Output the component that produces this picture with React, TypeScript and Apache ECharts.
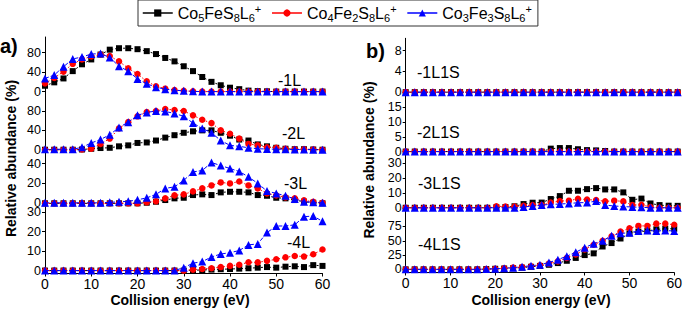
import React, { useEffect, useRef } from "react";
import * as echarts from "echarts";

// Collision energy (eV)
const energy = [0, 2, 4, 6, 8, 10, 12, 14, 16, 18, 20, 22, 24, 26, 28, 30, 32, 34, 36, 38, 40, 42, 44, 46, 48, 50, 52, 54, 56, 58, 60];

const seriesNames = ["Co5FeS8L6+", "Co4Fe2S8L6+", "Co3Fe3S8L6+"];
const legendRich: Record<string, string> = {
  "Co5FeS8L6+": "Co{s|5}FeS{s|8}L{s|6}{p|+}",
  "Co4Fe2S8L6+": "Co{s|4}Fe{s|2}S{s|8}L{s|6}{p|+}",
  "Co3Fe3S8L6+": "Co{s|3}Fe{s|3}S{s|8}L{s|6}{p|+}",
};

// a) -1L
const l1Co5 = [12, 19, 27, 42, 56, 66, 76, 86, 89, 89, 87, 83, 77, 69, 62, 52, 42, 30, 20, 13, 8, 5, 2, 1, 0.5, 0, 0, 0, 0, 0, 0];
const l1Co4 = [17, 28, 41, 57, 66, 72, 76, 73, 62, 48, 36, 21, 11, 6, 3, 1.5, 0.5, 0, 0, 0, 0, 0, 0, 0, 0, 0, 0, 0, 0, 0, 0];
const l1Co3 = [27, 34, 51, 67, 71, 77, 78, 70, 52, 42, 26, 16, 9, 5, 3, 1.5, 0.5, 0, 0, 0, 0, 0, 0, 0, 0, 0, 0, 0, 0, 0, 0];
// a) -2L
const l2Co5 = [0, 0, 0, 0, 0.5, 2, 3.5, 4, 7, 9, 14, 15, 19, 25, 30, 35, 38, 40, 40, 35, 29, 21, 19, 11, 7, 4, 2, 1, 1, 0.5, 0];
const l2Co4 = [0, 0, 0, 0, 0.5, 2, 12, 23, 44, 57, 69, 78, 80, 84, 82, 80, 71, 62, 55, 40, 33, 23, 12, 9, 5, 4, 2, 1, 1, 0.5, 0];
const l2Co3 = [1, 1, 1, 1, 5, 14, 21, 31, 46, 57, 71, 77, 80, 79, 75, 69, 55, 44, 35, 19, 9, 7, 4, 2, 1.5, 1, 1, 0.5, 0.5, 0, 0];
// a) -3L
const l3Co5 = [0, 0, 0, 0, 0, 0, 0, 0, 0, 0, 0, 0.6, 1.6, 3.3, 5, 5.6, 8.3, 9, 8.3, 11, 11.6, 11.6, 11, 8.3, 7.6, 5.6, 5, 3.3, 1.6, 0.6, 0];
const l3Co4 = [0, 0, 0, 0, 0, 0, 0, 0, 0, 0, 0, 1, 2, 5, 8, 9, 12, 15, 18, 21, 20, 22, 18, 15, 10, 8, 6, 5, 3, 1.5, 0.5];
const l3Co3 = [0.5, 0.5, 0.5, 0.5, 0.5, 0.5, 0.5, 1, 1.5, 2, 3.5, 5.5, 9, 15, 16.6, 23, 31.6, 33, 41, 38, 35, 32, 26.6, 20, 12.3, 10, 7.6, 4.3, 1.6, 1, 0.6];
// a) -4L
const l4Co5 = [0, 0, 0, 0, 0, 0, 0, 0, 0, 0, 0, 0, 0, 0, 0, 0, 0.2, 0.3, 0.5, 0.7, 0.8, 1, 1.2, 1.5, 1.8, 1.5, 2, 2.2, 1.8, 2.8, 2.4];
const l4Co4 = [0, 0, 0, 0, 0, 0, 0, 0, 0, 0, 0, 0, 0, 0, 0, 0, 0.5, 0.8, 1.2, 1.8, 2.4, 3, 4.3, 4.2, 5, 5.8, 6.8, 7.5, 7.2, 8.4, 10.8];
const l4Co3 = [0, 0, 0, 0, 0, 0, 0, 0, 0, 0, 0, 0, 0, 0, 0, 1.5, 3.8, 4.6, 7, 8.5, 9.2, 10.3, 13.2, 13.7, 19.5, 22.9, 22.9, 23.5, 27.7, 28, 25.3];
// b) -1L1S
const s1Co5 = [0, 0, 0, 0, 0, 0, 0, 0, 0, 0, 0, 0, 0, 0, 0, 0, 0, 0, 0, 0, 0, 0, 0, 0, 0, 0, 0, 0, 0, 0, 0];
const s1Co4 = [0, 0, 0, 0, 0, 0, 0, 0, 0, 0, 0, 0, 0, 0, 0, 0, 0, 0, 0, 0, 0, 0, 0, 0, 0, 0, 0, 0, 0, 0, 0];
const s1Co3 = [0, 0, 0, 0, 0, 0, 0, 0, 0, 0, 0, 0, 0, 0, 0, 0, 0, 0, 0, 0, 0, 0, 0, 0, 0, 0, 0, 0, 0, 0, 0];
// b) -2L1S
const s2Co5 = [0, 0, 0, 0, 0, 0, 0, 0, 0, 0, 0, 0, 0, 0, 0, 0, 1, 1.2, 1.2, 0.8, 0.5, 0.4, 0.2, 0, 0, 0, 0, 0, 0, 0, 0];
const s2Co4 = [0, 0, 0, 0, 0, 0, 0, 0, 0, 0, 0, 0, 0, 0, 0, 0, 0, 0, 0, 0, 0, 0, 0, 0, 0, 0, 0, 0, 0, 0, 0];
const s2Co3 = [0, 0, 0, 0, 0, 0, 0, 0, 0, 0, 0, 0, 0, 0, 0, 0, 0, 0, 0, 0, 0, 0, 0, 0, 0, 0, 0, 0, 0, 0, 0];
// b) -3L1S
const s3Co5 = [0, 0, 0, 0, 0, 0, 0, 0, 0, 0, 0.3, 0.5, 1, 2.5, 3.4, 3.5, 5.9, 7.9, 11.5, 11.5, 12.6, 13.3, 12.4, 12.4, 10.4, 5.4, 6.2, 2.9, 1.8, 1.4, 1.3];
const s3Co4 = [0, 0, 0, 0, 0, 0, 0, 0, 0, 0, 1, 0.8, 0.8, 1.4, 1.8, 1.8, 3.5, 4.5, 4.8, 6, 5.5, 5.2, 4.3, 4.8, 4.3, 1.8, 2, 0.5, 0, 0, 0];
const s3Co3 = [0, 0, 0, 0, 0, 0, 0, 0, 0, 0, 0, 0, 0, 0.5, 1.2, 1.8, 2.3, 2.5, 2.9, 3.4, 3.5, 4.5, 1.8, 1.2, 0.8, 0.5, 0.3, 0, 0, 0, 0];
// b) -4L1S
const s4Co5 = [0, 0, 0, 0, 0, 0, 0, 0, 0, 0.5, 1, 1.5, 2, 3, 4.5, 6, 8, 11, 15, 20, 25, 28, 40, 46, 54, 63, 66, 67, 70, 71, 71];
const s4Co4 = [0, 0, 0, 0, 0, 0, 0, 0, 0, 0.5, 1, 2, 3, 4, 5.5, 7, 10, 14, 20, 26, 35, 43, 50, 58, 66, 72, 76, 76, 80, 80, 78];
const s4Co3 = [0, 0, 0, 0, 0, 0, 0, 0, 0, 0.5, 1, 2, 3, 4.5, 6.5, 8, 12, 17, 23, 30, 38, 45, 50, 59, 63, 64, 67, 68, 67, 68, 67];

// tick labels
const ticksL1 = [0, 40, 80];
const ticksL2 = [0, 40, 80];
const ticksL3 = [0, 20, 40];
const ticksL4 = [0, 10, 20, 30];
const ticksS1 = [0, 4, 8];
const ticksS2 = [0, 5, 10, 15];
const ticksS3 = [0, 10, 20, 30];
const ticksS4 = [0, 25, 50, 75];

const panelLabels = ["-1L", "-2L", "-3L", "-4L", "-1L1S", "-2L1S", "-3L1S", "-4L1S"];

const FONT = "'Liberation Sans', Arial, sans-serif";

// layout (not data)
const panels = [
  { left: 45, width: 277.5, top: 37, height: 58.5, min: -8, max: 112, ticks: ticksL1, data: [l1Co5, l1Co4, l1Co3], bottom: false, lx: 278, ly: 80 },
  { left: 45, width: 277.5, top: 95.5, height: 58.1, min: -8, max: 112, ticks: ticksL2, data: [l2Co5, l2Co4, l2Co3], bottom: false, lx: 282, ly: 133 },
  { left: 45, width: 277.5, top: 153.6, height: 53.7, min: -4, max: 50, ticks: ticksL3, data: [l3Co5, l3Co4, l3Co3], bottom: false, lx: 284, ly: 183 },
  { left: 45, width: 277.5, top: 207.3, height: 66.2, min: -1.5, max: 32.5, ticks: ticksL4, data: [l4Co5, l4Co4, l4Co3], bottom: true, lx: 287, ly: 242 },
  { left: 405.7, width: 272, top: 38.3, height: 58, min: -0.8, max: 10.4, ticks: ticksS1, data: [s1Co5, s1Co4, s1Co3], bottom: false, lx: 417, ly: 72 },
  { left: 405.7, width: 272, top: 96.3, height: 59.7, min: -1.5, max: 18.8, ticks: ticksS2, data: [s2Co5, s2Co4, s2Co3], bottom: false, lx: 417, ly: 132 },
  { left: 405.7, width: 272, top: 156, height: 56.2, min: -3, max: 35, ticks: ticksS3, data: [s3Co5, s3Co4, s3Co3], bottom: false, lx: 418, ly: 183 },
  { left: 405.7, width: 272, top: 212.2, height: 60.3, min: -5.5, max: 100, ticks: ticksS4, data: [s4Co5, s4Co4, s4Co3], bottom: true, lx: 418, ly: 244 },
];

const styles = [
  { symbol: "rect", size: 6, color: "#000000", line: [2, 2] as any },
  { symbol: "circle", size: 6.5, color: "#ff0000", line: [1.5, 2] as any },
  { symbol: "triangle", size: 8, color: "#0000ff", line: [4, 2] as any },
];

export default function App() {
  const ref = useRef<HTMLDivElement>(null);
  useEffect(() => {
    if (!ref.current) return;
    const chart = echarts.init(ref.current, undefined, { renderer: "svg" });
    const grid = panels.map((p) => ({ left: p.left, top: p.top, width: p.width, height: p.height, containLabel: false }));
    const xAxis = panels.map((p, k) =>
      p.bottom
        ? {
            gridIndex: k,
            type: "value",
            min: 0,
            max: 60,
            interval: 10,
            axisLine: { show: true, onZero: false, lineStyle: { color: "#000", width: 1 } },
            axisTick: { show: true, length: 3, lineStyle: { color: "#000" } },
            axisLabel: { color: "#000", fontSize: 14, margin: 3, fontFamily: FONT },
            splitLine: { show: false },
          }
        : { gridIndex: k, type: "value", min: 0, max: 60, show: false }
    );
    const yAxis = panels.map((p, k) => ({
      gridIndex: k,
      type: "value",
      min: p.min,
      max: p.max,
      axisLine: { show: true, onZero: false, lineStyle: { color: "#000", width: 1 } },
      axisTick: { show: true, length: 3, customValues: p.ticks, lineStyle: { color: "#000" } },
      axisLabel: { customValues: p.ticks, color: "#000", fontSize: 12.5, lineHeight: 10, margin: 4, fontFamily: FONT },
      splitLine: { show: false },
    }));
    const series: any[] = [];
    panels.forEach((p, k) => {
      p.data.forEach((arr, j) => {
        const st = styles[j];
        series.push({
          name: seriesNames[j],
          type: "line",
          xAxisIndex: k,
          yAxisIndex: k,
          data: energy.map((e, i) => [e, arr[i]]),
          symbol: st.symbol,
          symbolSize: st.size,
          showAllSymbol: true,
          clip: false,
          itemStyle: { color: st.color },
          lineStyle: { color: st.color, width: 1, type: st.line },
          z: 2 + j,
        });
      });
    });
    const graphic: any[] = [
      { type: "text", left: 0, top: 36, style: { text: "a)", font: `bold 20px ${FONT}`, fill: "#000" } },
      { type: "text", left: 366, top: 41, style: { text: "b)", font: `bold 20px ${FONT}`, fill: "#000" } },
      {
        type: "text",
        x: 11,
        y: 158.5,
        rotation: Math.PI / 2,
        style: { text: "Relative abundance (%)", font: `bold 14px ${FONT}`, fill: "#000", align: "center", verticalAlign: "middle" },
      },
      {
        type: "text",
        x: 369,
        y: 160,
        rotation: Math.PI / 2,
        style: { text: "Relative abundance (%)", font: `bold 14px ${FONT}`, fill: "#000", align: "center", verticalAlign: "middle" },
      },
      { type: "text", x: 180, y: 300, style: { text: "Collision energy (eV)", font: `bold 14px ${FONT}`, fill: "#000", align: "center", verticalAlign: "middle" } },
      { type: "text", x: 541, y: 300, style: { text: "Collision energy (eV)", font: `bold 14px ${FONT}`, fill: "#000", align: "center", verticalAlign: "middle" } },
      ...panels.map((p, k) => ({
        type: "text",
        x: p.lx,
        y: p.ly,
        style: { text: panelLabels[k], font: `16px ${FONT}`, fill: "#000", align: "left", verticalAlign: "middle" },
      })),
    ];
    chart.setOption({
      animation: false,
      backgroundColor: "#ffffff",
      legend: {
        data: seriesNames,
        left: 138,
        top: 0,
        padding: [3, 6, 3, 4],
        itemGap: 10,
        itemWidth: 30,
        itemHeight: 9,
        borderColor: "#333",
        borderWidth: 1,
        lineStyle: { type: "solid", width: 1.5 },
        formatter: (name: string) => legendRich[name] || name,
        textStyle: {
          fontSize: 16,
          lineHeight: 20,
          color: "#000",
          fontFamily: FONT,
          rich: {
            s: { fontSize: 11, lineHeight: 11, verticalAlign: "bottom", fontFamily: FONT, color: "#000" },
            p: { fontSize: 11, lineHeight: 8, verticalAlign: "top", fontFamily: FONT, color: "#000" },
          },
        },
      },
      grid,
      xAxis,
      yAxis,
      series,
      graphic,
    } as any);
    return () => chart.dispose();
  }, []);
  return <div ref={ref} style={{ position: "fixed", left: 0, top: 0, width: 685, height: 312 }} />;
}
